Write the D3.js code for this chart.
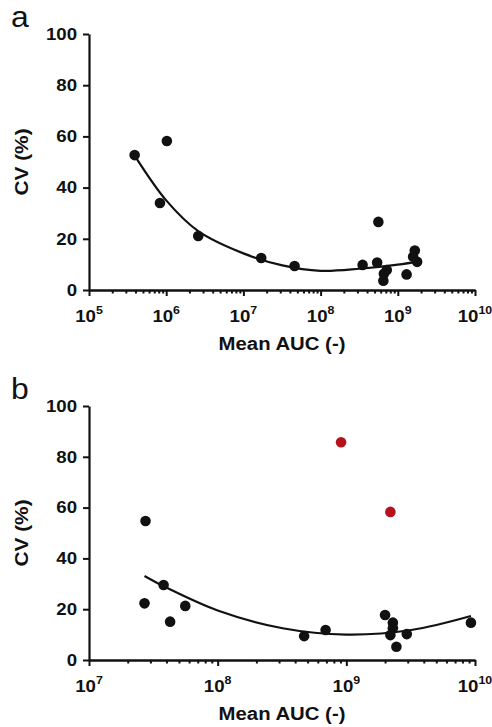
<!DOCTYPE html>
<html>
<head>
<meta charset="utf-8">
<title>CV vs Mean AUC</title>
<script src="https://d3js.org/d3.v7.min.js"></script>
<style>
  body { margin: 0; background: #fff; }
  svg { display: block; font-family: "Liberation Sans", Arial, sans-serif; }
  .axis path, .axis line { stroke: #111; }
  .axis path { stroke-width: 2.2; }
  .axis line { stroke-width: 2; }
</style>
</head>
<body>
<script>
// panel a : measured points
var aucA = [3.9e5, 1.02e6, 8.3e5, 2.6e6, 1.7e7, 4.6e7, 3.5e8, 5.4e8, 5.6e8, 7.2e8, 6.6e8, 6.5e8, 1.3e9, 1.66e9, 1.58e9, 1.78e9];
var cvA  = [52.7, 58.2, 34, 21.1, 12.5, 9.4, 9.8, 10.7, 26.6, 7.8, 6.3, 3.6, 6.1, 15.4, 13, 11];
// panel a : fitted curve
var fitAucA = [4.0e5, 1.0e6, 2.6e6, 1.0e7, 3.2e7, 1.0e8, 3.2e8, 1.0e9, 1.95e9];
var fitCvA  = [52, 35, 23, 14.3, 9.6, 7.5, 8.3, 9.9, 11.3];

// panel b : measured points (black) and outliers (red)
var aucB = [2.75e7, 2.7e7, 3.8e7, 4.27e7, 5.6e7, 4.7e8, 6.9e8, 2.0e9, 2.3e9, 2.3e9, 2.2e9, 2.95e9, 2.45e9, 9.3e9];
var cvB  = [54.7, 22.3, 29.5, 15.1, 21.3, 9.4, 11.8, 17.7, 14.7, 12.5, 9.8, 10.2, 5.2, 14.7];
var aucRed = [9.1e8, 2.2e9];
var cvRed  = [85.7, 58.3];
var fitAucB = [2.7e7, 4.0e7, 1.0e8, 3.2e8, 1.0e9, 3.2e9, 9.3e9];
var fitCvB  = [33.1, 28.5, 19.5, 12.5, 10, 11.8, 17.3];

var yTicks = [0, 20, 40, 60, 80, 100];

var width = 492, height = 727;
var svg = d3.select("body").append("svg")
  .attr("width", width)
  .attr("height", height);

var stretch = 1.13;

function panel(opt) {
  var g = svg.append("g");
  var x = d3.scaleLog().domain([opt.xmin, opt.xmax]).range([89, 475]);
  var y = d3.scaleLinear().domain([0, 100]).range([opt.bottom, opt.top]);

  // major and minor ticks on log axis
  var majors = [], minors = [];
  var e0 = Math.round(Math.log10(opt.xmin)), e1 = Math.round(Math.log10(opt.xmax));
  for (var e = e0; e <= e1; e++) {
    majors.push(Math.pow(10, e));
    if (e < e1) for (var k = 2; k <= 9; k++) minors.push(k * Math.pow(10, e));
  }

  g.append("g").attr("class", "axis")
    .attr("transform", "translate(0," + opt.bottom + ")")
    .call(d3.axisBottom(x).tickValues(minors).tickSize(3.5).tickSizeOuter(0).tickFormat(function(){ return ""; }));
  g.append("g").attr("class", "axis")
    .attr("transform", "translate(0," + opt.bottom + ")")
    .call(d3.axisBottom(x).tickValues(majors).tickSize(6).tickSizeOuter(0).tickFormat(function(){ return ""; }));

  // x tick labels 10^n
  majors.forEach(function(v) {
    var t = g.append("text")
      .attr("transform", "translate(" + x(v) + "," + (opt.bottom + 32) + ") scale(" + stretch + ",1)")
      .attr("text-anchor", "middle")
      .attr("font-weight", "bold")
      .attr("font-size", 16.5)
      .attr("fill", "#111");
    t.append("tspan").text("10");
    t.append("tspan").attr("dy", -8).attr("font-size", 11).text(Math.round(Math.log10(v)));
  });

  var ya = g.append("g").attr("class", "axis")
    .attr("transform", "translate(89,0)")
    .call(d3.axisLeft(y).tickValues(yTicks).tickSize(6).tickSizeOuter(0).tickPadding(6));
  ya.selectAll("text")
    .attr("font-size", 16.5)
    .attr("font-weight", "bold")
    .attr("font-family", "Liberation Sans, Arial, sans-serif")
    .attr("fill", "#111")
    .attr("x", -12 / stretch)
    .attr("transform", "scale(" + stretch + ",1)");

  // fitted curve
  var line = d3.line()
    .x(function(d) { return x(d[0]); })
    .y(function(d) { return y(d[1]); })
    .curve(d3.curveCatmullRom);
  g.append("path")
    .datum(d3.zip(opt.fitAuc, opt.fitCv))
    .attr("fill", "none")
    .attr("stroke", "#111")
    .attr("stroke-width", 2.2)
    .attr("d", line);

  g.selectAll("circle.pt")
    .data(d3.zip(opt.auc, opt.cv))
    .enter().append("circle")
    .attr("class", "pt")
    .attr("cx", function(d) { return x(d[0]); })
    .attr("cy", function(d) { return y(d[1]); })
    .attr("r", 5.3)
    .attr("fill", "#111");

  if (opt.redAuc) {
    g.selectAll("circle.red")
      .data(d3.zip(opt.redAuc, opt.redCv))
      .enter().append("circle")
      .attr("class", "red")
      .attr("cx", function(d) { return x(d[0]); })
      .attr("cy", function(d) { return y(d[1]); })
      .attr("r", 5.3)
      .attr("fill", "#b5121b");
  }

  // titles
  g.append("text")
    .attr("transform", "translate(282," + (opt.bottom + 60) + ") scale(" + stretch + ",1)")
    .attr("text-anchor", "middle")
    .attr("font-weight", "bold")
    .attr("font-size", 18)
    .attr("fill", "#111")
    .text("Mean AUC (-)");
  g.append("text")
    .attr("transform", "translate(28," + ((opt.top + opt.bottom) / 2) + ") rotate(-90) scale(1.16,1)")
    .attr("text-anchor", "middle")
    .attr("font-weight", "bold")
    .attr("font-size", 18)
    .attr("fill", "#111")
    .text("CV (%)");
  g.append("text")
    .attr("transform", "translate(11," + (opt.top - 7) + ") scale(1.1,1)")
    .attr("font-size", 29)
    .attr("fill", "#111")
    .text(opt.label);
}

panel({ label: "a", xmin: 1e5, xmax: 1e10, top: 34, bottom: 290,
        auc: aucA, cv: cvA, fitAuc: fitAucA, fitCv: fitCvA });
panel({ label: "b", xmin: 1e7, xmax: 1e10, top: 406, bottom: 660,
        auc: aucB, cv: cvB, fitAuc: fitAucB, fitCv: fitCvB,
        redAuc: aucRed, redCv: cvRed });
</script>
</body>
</html>
